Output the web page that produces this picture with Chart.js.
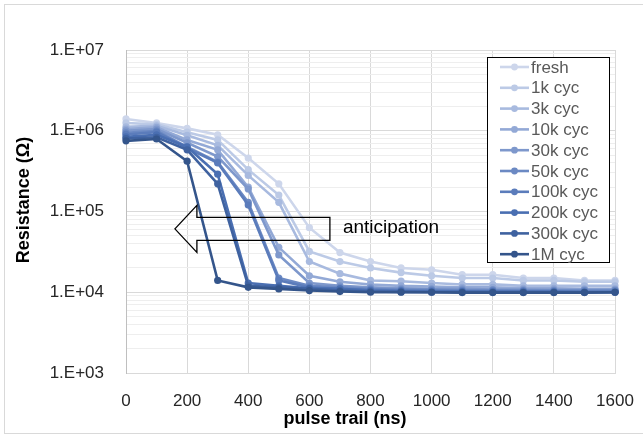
<!DOCTYPE html>
<html>
<head>
<meta charset="utf-8">
<script src="https://cdn.jsdelivr.net/npm/chart.js@4.4.0/dist/chart.umd.min.js"></script>
<style>
  html, body { margin: 0; padding: 0; background: #fff; }
  #wrap { width: 643px; height: 437px; }
</style>
</head>
<body>
<div id="wrap"><canvas id="myChart" width="643" height="437"></canvas></div>
<script>
// pulse trail positions (ns)
const pulseTimes = [0, 100, 200, 300, 400, 500, 600, 700, 800, 900, 1000, 1100, 1200, 1300, 1400, 1500, 1600];

const seriesNames = ['fresh', '1k cyc', '3k cyc', '10k cyc', '30k cyc', '50k cyc', '100k cyc', '200k cyc', '300k cyc', '1M cyc'];

// resistance (ohm)
const fresh   = [1.4e6, 1.25e6, 1.07e6, 8.9e5, 4.6e5, 2.2e5, 6.3e4, 3.1e4, 2.4e4, 2.0e4, 1.9e4, 1.65e4, 1.65e4, 1.5e4, 1.5e4, 1.4e4, 1.4e4];
const cyc1k   = [1.25e6, 1.2e6, 9.6e5, 7.7e5, 3.3e5, 1.6e5, 3.2e4, 2.4e4, 2.0e4, 1.75e4, 1.6e4, 1.5e4, 1.5e4, 1.4e4, 1.4e4, 1.35e4, 1.35e4];
const cyc3k   = [1.12e6, 1.15e6, 8.8e5, 6.6e5, 2.8e5, 1.3e5, 2.4e4, 1.7e4, 1.4e4, 1.37e4, 1.3e4, 1.25e4, 1.25e4, 1.2e4, 1.2e4, 1.2e4, 1.2e4];
const cyc10k  = [1.05e6, 1.1e6, 7.7e5, 5.8e5, 2.0e5, 3.6e4, 1.6e4, 1.35e4, 1.25e4, 1.2e4, 1.18e4, 1.15e4, 1.15e4, 1.12e4, 1.12e4, 1.1e4, 1.1e4];
const cyc30k  = [1.0e6, 1.05e6, 7.1e5, 4.8e5, 1.9e5, 2.9e4, 1.3e4, 1.2e4, 1.15e4, 1.12e4, 1.1e4, 1.1e4, 1.08e4, 1.08e4, 1.07e4, 1.07e4, 1.07e4];
const cyc50k  = [9.4e5, 1.0e6, 6.3e5, 4.1e5, 1.3e5, 1.5e4, 1.2e4, 1.15e4, 1.1e4, 1.08e4, 1.07e4, 1.06e4, 1.06e4, 1.05e4, 1.05e4, 1.05e4, 1.05e4];
const cyc100k = [9.0e5, 9.6e5, 6.1e5, 4.0e5, 1.2e5, 1.4e4, 1.15e4, 1.1e4, 1.07e4, 1.05e4, 1.04e4, 1.03e4, 1.03e4, 1.03e4, 1.02e4, 1.02e4, 1.02e4];
const cyc200k = [8.4e5, 8.9e5, 6.3e5, 2.9e5, 1.3e4, 1.2e4, 1.12e4, 1.1e4, 1.05e4, 1.03e4, 1.02e4, 1.02e4, 1.01e4, 1.01e4, 1.01e4, 1.0e4, 1.0e4];
const cyc300k = [8.0e5, 8.3e5, 5.8e5, 2.2e5, 1.2e4, 1.15e4, 1.1e4, 1.05e4, 1.02e4, 1.01e4, 1.0e4, 1.0e4, 1.0e4, 1.0e4, 1.0e4, 1.0e4, 1.0e4];
const cyc1M   = [7.5e5, 7.9e5, 4.2e5, 1.4e4, 1.15e4, 1.1e4, 1.05e4, 1.02e4, 1.0e4, 1.0e4, 1.0e4, 9.9e3, 9.9e3, 9.9e3, 9.9e3, 9.9e3, 1.0e4];

const seriesValues = [fresh, cyc1k, cyc3k, cyc10k, cyc30k, cyc50k, cyc100k, cyc200k, cyc300k, cyc1M];
const seriesColors = ['#cdd6eb', '#bccae6', '#a8badf', '#93a9d6', '#7e98cc', '#6b89c3', '#5b7cbb', '#4a6fb2', '#3f62a0', '#34558b'];

const xTickStep = 200;
const yTickValues = [1e3, 1e4, 1e5, 1e6, 1e7];
const yTickLabels = ['1.E+03', '1.E+04', '1.E+05', '1.E+06', '1.E+07'];

// the "anticipation" arrow tip, in data units
const arrowTip = { x: 160, y: 6.1e4 };
const arrowText = 'anticipation';

const FONT = "'Liberation Sans', Arial, sans-serif";

const datasets = seriesNames.map((name, i) => ({
    label: name,
    data: pulseTimes.map((t, k) => ({ x: t, y: seriesValues[i][k] })),
    borderColor: seriesColors[i],
    backgroundColor: seriesColors[i],
    pointBackgroundColor: seriesColors[i],
    pointBorderWidth: 0,
    pointRadius: 3.6,
    borderWidth: 2.6,
    tension: 0,
    clip: false,
    order: seriesNames.length - i
}));

const extras = {
    id: 'extras',
    afterDatasetsDraw(chart) {
        const { ctx, scales: { x, y } } = chart;
        ctx.save();

        // arrow outline pointing left
        const tx = x.getPixelForValue(arrowTip.x);
        const ty = y.getPixelForValue(arrowTip.y);
        const headW = 22, headH = 23.5, shaftH = 11.5, shaftL = 133;
        ctx.beginPath();
        ctx.moveTo(tx, ty);
        ctx.lineTo(tx + headW, ty - headH);
        ctx.lineTo(tx + headW, ty - shaftH);
        ctx.lineTo(tx + headW + shaftL, ty - shaftH);
        ctx.lineTo(tx + headW + shaftL, ty + shaftH);
        ctx.lineTo(tx + headW, ty + shaftH);
        ctx.lineTo(tx + headW, ty + headH);
        ctx.closePath();
        ctx.strokeStyle = '#000';
        ctx.lineWidth = 1.3;
        ctx.stroke();

        ctx.fillStyle = '#000';
        ctx.font = '19px ' + FONT;
        ctx.textAlign = 'left';
        ctx.textBaseline = 'middle';
        ctx.fillText(arrowText, tx + headW + shaftL + 13, ty - 1);

        // legend box
        const lx = 487, ly = 57, lw = 122, lh = 205;
        ctx.fillStyle = '#fff';
        ctx.fillRect(lx, ly, lw, lh);
        ctx.strokeStyle = '#000';
        ctx.lineWidth = 1;
        ctx.strokeRect(lx + 0.5, ly + 0.5, lw, lh);
        ctx.font = '17px ' + FONT;
        chart.data.datasets.forEach((ds, i) => {
            const cy = ly + 10 + i * 20.8;
            ctx.strokeStyle = ds.borderColor;
            ctx.lineWidth = 2.6;
            ctx.beginPath();
            ctx.moveTo(lx + 13, cy);
            ctx.lineTo(lx + 42, cy);
            ctx.stroke();
            ctx.fillStyle = ds.borderColor;
            ctx.beginPath();
            ctx.arc(lx + 27.5, cy, 3.4, 0, Math.PI * 2);
            ctx.fill();
            ctx.fillStyle = '#595959';
            ctx.fillText(ds.label, lx + 44, cy + 1);
        });

        // axis titles
        ctx.fillStyle = '#000';
        ctx.font = 'bold 18px ' + FONT;
        ctx.textAlign = 'center';
        ctx.fillText('pulse trail (ns)', 345, 419);
        ctx.translate(24, 200);
        ctx.rotate(-Math.PI / 2);
        ctx.fillText('Resistance (Ω)', 0, 0);
        ctx.restore();

        // outer chart border
        ctx.save();
        ctx.strokeStyle = '#d9d9d9';
        ctx.lineWidth = 1;
        ctx.strokeRect(4.5, 4.5, 700, 429);
        ctx.restore();
    }
};

const ctx = document.getElementById('myChart').getContext('2d');
const myChart = new Chart(ctx, {
    type: 'line',
    data: { datasets: datasets },
    options: {
        responsive: false,
        animation: false,
        devicePixelRatio: 1,
        layout: { padding: { left: 0, right: 28, top: 50, bottom: 0 } },
        plugins: {
            legend: { display: false },
            tooltip: { enabled: false }
        },
        scales: {
            x: {
                type: 'linear',
                min: 0,
                max: 1600,
                afterFit: scale => {
                    scale.height = 64;
                    scale.paddingLeft = 0;
                    scale.paddingRight = 0;
                },
                ticks: {
                    stepSize: xTickStep,
                    padding: 18,
                    color: '#262626',
                    font: { family: FONT, size: 17 },
                    maxRotation: 0,
                    callback: v => String(v)
                },
                grid: { color: '#d9d9d9', drawTicks: false },
                border: { color: '#d9d9d9' }
            },
            y: {
                type: 'logarithmic',
                min: yTickValues[0],
                max: yTickValues[yTickValues.length - 1],
                afterFit: scale => {
                    scale.width = 126;
                    scale.paddingTop = 0;
                    scale.paddingBottom = 0;
                },
                afterBuildTicks: scale => {
                    const t = [];
                    for (let d = 0; d < yTickValues.length - 1; d++) {
                        for (let k = 1; k < 10; k++) t.push({ value: yTickValues[d] * k });
                    }
                    t.push({ value: yTickValues[yTickValues.length - 1] });
                    scale.ticks = t;
                },
                ticks: {
                    autoSkip: false,
                    padding: 22,
                    color: '#262626',
                    font: { family: FONT, size: 17 },
                    callback: v => {
                        const idx = yTickValues.indexOf(v);
                        return idx >= 0 ? yTickLabels[idx] : '';
                    }
                },
                grid: {
                    drawTicks: false,
                    color: c => (c.tick && yTickValues.indexOf(c.tick.value) >= 0) ? '#d9d9d9' : '#eeeeee'
                },
                border: { color: '#bfbfbf' }
            }
        }
    },
    plugins: [extras]
});
</script>
</body>
</html>
